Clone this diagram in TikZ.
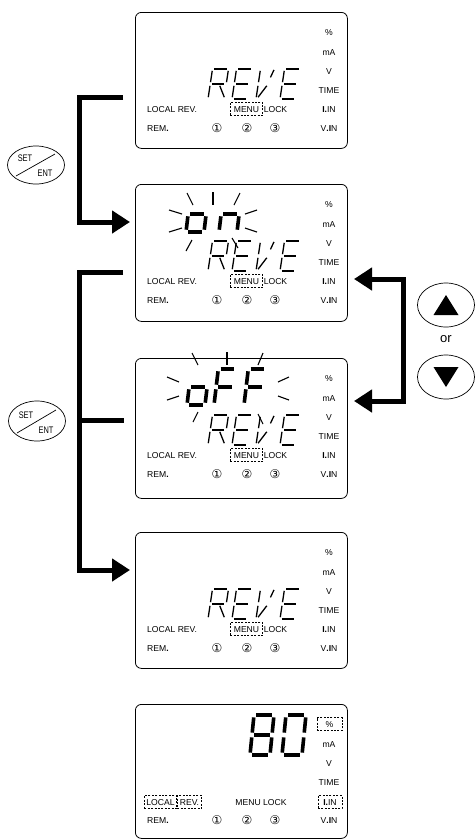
\documentclass[tikz,border=0pt]{standalone}
\usepackage{fontspec}
\usepackage{graphicx}
\setmainfont{Liberation Sans}
\newfontfamily\djv{DejaVu Sans}
\usetikzlibrary{arrows.meta,shapes.geometric}

% seven-segment pieces (local coords, y downward)
\def\sga{\draw (\dG,0)--(\dW-\dG,0);}
\def\sgb{\draw (\dW,\dG)--(\dW,\dM-\dG);}
\def\sgc{\draw (\dW,\dM+\dG)--(\dW,\dH-\dG);}
\def\sgd{\draw (\dG,\dH)--(\dW-\dG,\dH);}
\def\sge{\draw (0,\dM+\dG)--(0,\dH-\dG);}
\def\sgf{\draw (0,\dG)--(0,\dM-\dG);}
\def\sgg{\draw (\dG,\dM)--(\dW-\dG,\dM);}
\def\sgr{\draw (\dW*0.5+\dG,\dM+\dG)--(\dW,\dH-\dG);}
\def\sgv{\draw (\dG,\dH-\dG)--(\dW*0.55,\dM+\dG);}
\def\sgt{\draw (\dW*0.85,\dG*0.5)--(\dW*0.7,\dH*0.28);}

% #1 x bottom-left, #2 y top, #3 W, #4 H, #5 slant, #6 gap, #7 line width, #8 segments
\newcommand\segdigit[8]{%
  \begin{scope}[shift={({#1+#5*#4},{#2})}, xslant=#5, line width=#7]
    \def\dW{#3}\def\dH{#4}\def\dG{#6}\pgfmathsetmacro\dM{#4/2}
    \foreach \s in {#8}{\csname sg\s\endcsname}
  \end{scope}}

\newcommand\reve[1]{%
  \segdigit{208}{#1+57}{16}{30}{0.15}{1.8}{1.3pt}{a,b,f,e,g,r}%
  \segdigit{232}{#1+57}{16}{30}{0.15}{1.8}{1.3pt}{a,f,e,g,d}%
  \segdigit{256}{#1+57}{16}{30}{0.15}{1.8}{1.3pt}{f,e,v,t}%
  \segdigit{280}{#1+57}{16}{30}{0.15}{1.8}{1.3pt}{a,f,e,g,d}}

\tikzset{
  panel/.style={draw, line width=0.8pt, rounded corners=6pt, anchor=north west,
                minimum width=212pt, inner sep=0pt},
  lbl/.style={font=\fontsize{8.6}{10}\selectfont, inner sep=0pt, text height=6.3pt, text depth=0pt},
  cdig/.style={font=\djv\fontsize{12}{13}\selectfont, inner sep=0pt},
  dbox/.style={draw, dash pattern=on 2pt off 1.4pt, line width=0.7pt, inner xsep=2pt, minimum height=13pt},
  ray/.style={line width=1.1pt},
  brk/.style={line width=5pt, line join=miter},
  tip/.style={-{Triangle[length=18pt,width=22pt]}},
  btn/.style={draw, ellipse, line width=0.7pt, inner sep=0pt},
  setf/.style={font=\fontsize{9.5}{10}\selectfont, inner sep=0pt},
}

\newcommand\stdlabels[1]{%
  \node[lbl] (pc#1) at (329,#1+20) {\%};
  \node[lbl] (ma#1) at (329,#1+40) {mA};
  \node[lbl] (vv#1) at (329,#1+59) {V};
  \node[lbl] (tm#1) at (329,#1+78) {TIME};
  \node[lbl] (ii#1) at (329,#1+97) {\textbf{I.}IN};
  \node[lbl] (vi#1) at (329,#1+116) {V\textbf{.I}N};
  \node[lbl, anchor=west] (lr#1) at (147,#1+97) {LOCAL REV.};
  \node[lbl, anchor=west] (rm#1) at (147,#1+116) {REM\textbf{.}};
  \node[cdig] (ca#1) at (217,#1+116) {①};
  \node[cdig] (cb#1) at (247,#1+116) {②};
  \node[cdig] (cc#1) at (275,#1+116) {③};
  \node[lbl, dbox, inner xsep=3.5pt] (mn#1) at (246.5,#1+97) {MENU};
  \node[lbl, anchor=west] (lk#1) at ([xshift=0.6pt]mn#1.east) {LOCK};}

\begin{document}
\begin{tikzpicture}[x=1pt,y=-1pt]
\useasboundingbox (0,0) rectangle (476,839);

% panels
\node[panel, minimum height=136pt] (p1) at (135,12) {};
\node[panel, minimum height=137pt] (p2) at (135,184) {};
\node[panel, minimum height=140pt] (p3) at (135,358) {};
\node[panel, minimum height=136pt] (p4) at (135,532) {};
\node[panel, minimum height=134pt] (p5) at (135,704) {};

% panel contents 1-4
\stdlabels{12}  \reve{12}
\stdlabels{184} \reve{184}
\stdlabels{358} \reve{358}
\stdlabels{532} \reve{532}

% panel 2: blinking "on"
\segdigit{186}{196}{18}{36}{0.12}{2.3}{3.6pt}{c,d,e,g}
\segdigit{219}{196}{18}{36}{0.12}{2.3}{3.6pt}{c,e,g}
\foreach \a/\b/\c/\d in {187/193/193/205, 213/192/213/205, 240/193/234/205,
   169/210/182/214, 169/232/182/228, 192/240/186/251,
   245/214/257/210, 245/228/257/232, 232/238/238/248}
  \draw[ray] (\a,\b) -- (\c,\d);

% panel 3: blinking "oFF"
\segdigit{187}{369}{18}{36}{0.12}{2.3}{3.6pt}{c,d,e,g}
\segdigit{214}{369}{18}{36}{0.12}{2.3}{3.6pt}{a,f,e,g}
\segdigit{244}{369}{18}{36}{0.12}{2.3}{3.6pt}{a,f,e,g}
\foreach \a/\b/\c/\d in {192/353/198/365, 227/352/227/365, 263/353/258/365,
   167/377/179/382, 167/400/179/396, 198/412/193/422,
   278/382/289/377, 278/396/289/400, 258/414/263/424}
  \draw[ray] (\a,\b) -- (\c,\d);

% panel 5
\segdigit{250}{715}{20}{40}{0.1}{2.4}{3.6pt}{a,b,c,d,e,f,g}
\segdigit{282}{715}{20}{40}{0.1}{2.4}{3.6pt}{a,b,c,d,e,f}
\node[lbl, dbox, minimum width=25pt] (pc5) at (329.5,724) {\%};
\node[lbl] (ma5) at (329,744) {mA};
\node[lbl] (vv5) at (329,763) {V};
\node[lbl] (tm5) at (329,782) {TIME};
\node[lbl, dbox, minimum width=24pt] (ii5) at (330,802) {\textbf{I.}IN};
\node[lbl] (vi5) at (329,820) {V\textbf{.I}N};
\node[lbl, dbox, anchor=east] (lo5) at (177,802) {LOCAL};
\node[lbl, dbox, anchor=west, inner xsep=2.5pt] (re5) at (177,802) {REV.};
\node[lbl, anchor=west] (rm5) at (147,820) {REM\textbf{.}};
\node[lbl] (ml5) at (261,802) {MENU LOCK};
\node[cdig] (ca5) at (217,820) {①};
\node[cdig] (cb5) at (247,820) {②};
\node[cdig] (cc5) at (275,820) {③};

% SET/ENT buttons
\node[btn, minimum width=57pt, minimum height=38pt] (se1) at (36,165) {};
\draw[line width=0.7pt] ([shift={(-20,11)}]se1.center) -- ([shift={(19,-11)}]se1.center);
\node[setf] (st1) at ([shift={(-11,-7)}]se1.center) {\scalebox{0.78}[1]{SET}};
\node[setf] (en1) at ([shift={(9,8)}]se1.center) {\scalebox{0.78}[1]{ENT}};

\node[btn, minimum width=57pt, minimum height=40pt] (se2) at (37,421) {};
\draw[line width=0.7pt] ([shift={(-20,12)}]se2.center) -- ([shift={(19,-11)}]se2.center);
\node[setf] (st2) at ([shift={(-11,-6)}]se2.center) {\scalebox{0.78}[1]{SET}};
\node[setf] (en2) at ([shift={(9,9)}]se2.center) {\scalebox{0.78}[1]{ENT}};

% up / down buttons
\node[btn, minimum width=57pt, minimum height=44pt] (up) at (446,305) {};
\fill ([shift={(-12.5,10)}]up.center) -- ([shift={(12.5,10)}]up.center) -- ([shift={(0,-10)}]up.center) -- cycle;
\node[font=\fontsize{13}{14}\selectfont, inner sep=0pt] (or) at (446,339) {or};
\node[btn, minimum width=57pt, minimum height=44pt] (dn) at (446,377) {};
\fill ([shift={(-12.5,-10)}]dn.center) -- ([shift={(12.5,-10)}]dn.center) -- ([shift={(0,10)}]dn.center) -- cycle;

% brackets
\coordinate (b1a) at (123,97);
\coordinate (b1b) at (79,222);
\coordinate (b1c) at (130,222);
\draw[brk, tip] (b1a) -| (b1b) -- (b1c);

\coordinate (b2a) at (123,272);
\coordinate (b2b) at (79,570);
\coordinate (b2c) at (130,570);
\coordinate (b2j) at (79,420);
\coordinate (b2m) at (124,420);
\draw[brk, tip] (b2a) -| (b2b) -- (b2c);
\draw[brk] (b2j) -- (b2m);

\coordinate (r1) at (354,279);
\coordinate (r2) at (403,279);
\coordinate (r3) at (354,401);
\draw[brk, {Triangle[length=18pt,width=22pt]}-{Triangle[length=18pt,width=22pt]}] (r1) -- (r2) |- (r3);
\end{tikzpicture}
\end{document}
